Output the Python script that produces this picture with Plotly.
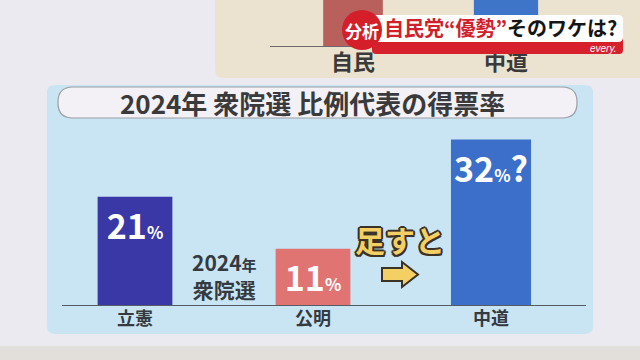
import plotly.graph_objects as go

W, H = 640, 360

# ---- data ----
parties = ["立憲", "公明", "中道"]
shares = [21, 11, 32]
share_suffix = ["", "", "?"]
bar_colors = ["#3a37a7", "#e07472", "#3b6fc9"]

top_parties = ["自民", "中道"]
top_values = [40, 40]          # bars continue above the visible frame
top_colors = ["#b9605c", "#3f75c9"]

title_text = "2024年 衆院選 比例代表の得票率"
note_text = "2024<span style='font-size:15px'>年</span><br>衆院選"
add_text = "足すと"
banner_red = "自民党“優勢”"
banner_black = "そのワケは?"

FONT = "Noto Sans CJK JP"


def px(x):
    return x / W


def py(y):
    return 1 - y / H


def rect_path(x0, y0, x1, y1, r):
    return (f"M {px(x0+r)} {py(y0)} L {px(x1-r)} {py(y0)} "
            f"Q {px(x1)} {py(y0)} {px(x1)} {py(y0+r)} L {px(x1)} {py(y1-r)} "
            f"Q {px(x1)} {py(y1)} {px(x1-r)} {py(y1)} L {px(x0+r)} {py(y1)} "
            f"Q {px(x0)} {py(y1)} {px(x0)} {py(y1-r)} L {px(x0)} {py(y0+r)} "
            f"Q {px(x0)} {py(y0)} {px(x0+r)} {py(y0)} Z")


def pshape(path, **kw):
    d = dict(type="path", xref="paper", yref="paper", path=path)
    d.update(kw)
    return d


texts = [f"{v}<span style='font-size:17px'>%</span>{s}" for v, s in zip(shares, share_suffix)]

fig = go.Figure()
fig.add_trace(go.Bar(
    x=parties, y=shares, marker_color=bar_colors, marker_line_width=0,
    width=[0.42, 0.42, 0.45],
    text=texts, textposition="inside", insidetextanchor="end",
    constraintext="none",
    textfont=dict(family=FONT, size=34, color="white", weight="bold"),
    hoverinfo="skip", xaxis="x", yaxis="y",
))
fig.add_trace(go.Bar(
    x=top_parties, y=top_values, marker_color=top_colors, marker_line_width=0,
    width=[0.39, 0.42], hoverinfo="skip", xaxis="x2", yaxis="y2",
))

shapes = [
    pshape(f"M {px(215)} {py(-5)} L {px(645)} {py(-5)} L {px(645)} {py(78)} "
           f"L {px(223)} {py(78)} Q {px(215)} {py(78)} {px(215)} {py(70)} Z",
           fillcolor="#ebe3cf", line_width=0, layer="below"),
    dict(type="rect", xref="paper", yref="paper", x0=0, x1=1, y0=0, y1=py(346),
         fillcolor="#e2dfdb", line_width=0, layer="below"),
    pshape(rect_path(47, 85, 593, 334, 8), fillcolor="#c9e5f3", line_width=0, layer="below"),
    pshape(rect_path(58, 87, 577, 118, 15), fillcolor="#f3f1f6",
           line=dict(color="#9a9fa6", width=1.2), layer="below"),
    dict(type="line", xref="paper", yref="y", x0=px(62), x1=px(586), y0=0, y1=0,
         line=dict(color="#565c64", width=2), layer="above"),
    dict(type="line", xref="paper", yref="y2", x0=px(270), x1=px(600), y0=0, y1=0,
         line=dict(color="#6a6a6a", width=2), layer="above"),
    pshape(f"M {px(382)} {py(268)} L {px(402)} {py(268)} L {px(402)} {py(262)} "
           f"L {px(418)} {py(274.5)} L {px(402)} {py(287)} L {px(402)} {py(281)} "
           f"L {px(382)} {py(281)} Z",
           fillcolor="#f4cf63", line=dict(color="#3a3226", width=2), layer="above"),
    pshape(rect_path(372, 36, 623, 54, 4), fillcolor="#d6202c", line_width=0, layer="above"),
    pshape(rect_path(372, 15, 623, 42, 5), fillcolor="#ffffff", line_width=0, layer="above"),
    dict(type="circle", xref="paper", yref="paper",
         x0=px(342), x1=px(382), y0=py(50), y1=py(10),
         fillcolor="#d41e2a", line_width=0, layer="above"),
]

outline = ", ".join(f"{dx}px {dy}px 0 #3a3226" for dx, dy in
                    [(2, 0), (-2, 0), (0, 2), (0, -2), (1.5, 1.5), (-1.5, -1.5), (1.5, -1.5), (-1.5, 1.5)])


def ann(text, x, y, size, color, xref="paper", xanchor="center", **fontkw):
    return dict(text=text, xref=xref, yref="paper", x=x, y=y, showarrow=False,
                xanchor=xanchor, yanchor="middle", align="center",
                font=dict(family=fontkw.pop("family", FONT), size=size, color=color, **fontkw))


annotations = [
    ann(title_text, px(312), py(102), 26, "#3a3a3c", weight="bold"),
    ann(note_text, 0.5, py(275), 21, "#343a40", xref="x", weight="bold"),
    ann(add_text, px(400), py(239), 30, "#f4cf63", weight="bold", shadow=outline),
    ann("分析", px(362), py(30), 17, "white", weight="bold"),
    ann(f"<span style='color:#d0202a'>{banner_red}</span>{banner_black}",
        px(500), py(28), 20, "#151515", weight="bold"),
    ann("<i>every.</i>", px(619), py(48.5), 10, "white", xanchor="right", family="Liberation Sans"),
]

fig.update_layout(
    width=W, height=H, margin=dict(l=0, r=0, t=0, b=0),
    paper_bgcolor="#eceaf1", plot_bgcolor="rgba(0,0,0,0)",
    showlegend=False, bargap=0.5,
    xaxis=dict(domain=[px(46), px(580)], range=[-0.5, 2.5], showgrid=False, zeroline=False,
               showline=False, ticks="", fixedrange=True,
               tickfont=dict(family=FONT, size=18, color="#343a40", weight="bold")),
    yaxis=dict(domain=[py(306), py(118.8)], range=[0, 36], visible=False, fixedrange=True),
    xaxis2=dict(domain=[px(276.5), px(582.5)], range=[-0.5, 1.5], anchor="y2",
                showgrid=False, zeroline=False, showline=False, ticks="", fixedrange=True,
                tickfont=dict(family=FONT, size=22, color="#3a3a3a", weight="bold")),
    yaxis2=dict(domain=[py(47), 1], range=[0, 8], visible=False, fixedrange=True, anchor="x2"),
    shapes=shapes, annotations=annotations,
)

fig.write_html("out.html")
